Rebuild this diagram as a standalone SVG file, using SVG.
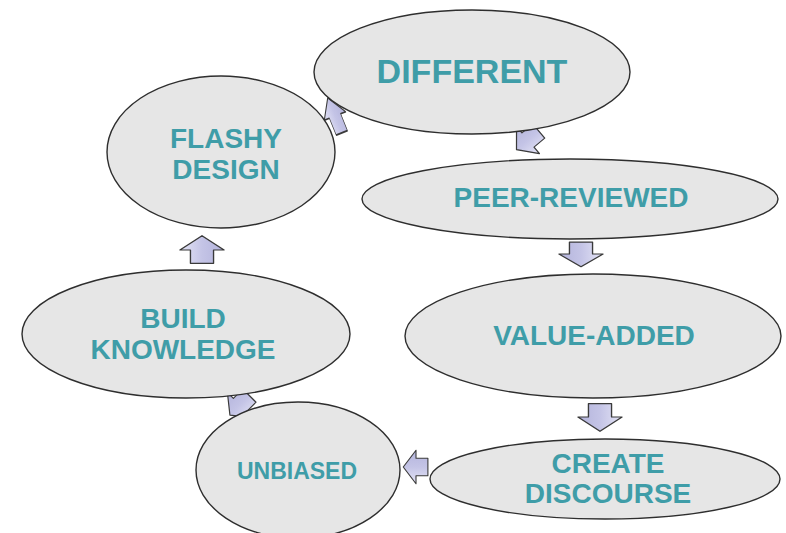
<svg xmlns="http://www.w3.org/2000/svg" width="786" height="533" viewBox="0 0 786 533">
<defs>
<linearGradient id="ag" x1="0" y1="0" x2="0" y2="1">
<stop offset="0" stop-color="#e4e4f6"/>
<stop offset="0.5" stop-color="#c4c4e6"/>
<stop offset="1" stop-color="#b4b4dc"/>
</linearGradient>
<polygon id="arr" points="-14,-11 0,-11 0,-21 15,0 0,21 0,11 -14,11"/>
</defs>
<style>
.n ellipse{fill:#e6e6e6;stroke:#2e2e2e;stroke-width:1.4}
.n text{font-family:"Liberation Sans",Arial,sans-serif;font-weight:bold;fill:#3f9da8;text-anchor:middle}
.c use{fill:url(#ag);stroke:#3a3a3a;stroke-width:1.3;stroke-linejoin:round}
</style>
<rect width="786" height="533" fill="#ffffff"/>
<g id="connectors" class="c">
<use href="#arr" transform="translate(335,116) rotate(-112) scale(1.3,0.55)"/>
<use href="#arr" transform="translate(528,140) rotate(140) scale(1.0,0.85)"/>
<use href="#arr" transform="translate(581,254) rotate(90) scale(0.85,1.05)"/>
<use href="#arr" transform="translate(600,417) rotate(90) scale(0.95,1.05)"/>
<use href="#arr" transform="translate(416,467) rotate(180) scale(0.85,0.8)"/>
<use href="#arr" transform="translate(240,405) rotate(135) scale(0.95,0.85)"/>
<use href="#arr" transform="translate(202,250) rotate(-90) scale(0.95,1.05)"/>
</g>
<g id="n-different" class="n">
<ellipse cx="472" cy="72" rx="158" ry="62"/>
<text x="472" y="83" font-size="34">DIFFERENT</text>
</g>
<g id="n-flashy" class="n">
<ellipse cx="221" cy="152" rx="114" ry="76"/>
<text x="226" y="148" font-size="28">FLASHY</text>
<text x="226" y="179" font-size="28">DESIGN</text>
</g>
<g id="n-peer" class="n">
<ellipse cx="570" cy="199" rx="208" ry="40"/>
<text x="571" y="207" font-size="28">PEER-REVIEWED</text>
</g>
<g id="n-value" class="n">
<ellipse cx="593" cy="336" rx="188" ry="62"/>
<text x="594" y="345" font-size="28">VALUE-ADDED</text>
</g>
<g id="n-create" class="n">
<ellipse cx="605" cy="479" rx="175" ry="40"/>
<text x="608" y="473" font-size="28">CREATE</text>
<text x="608" y="503" font-size="28">DISCOURSE</text>
</g>
<g id="n-unbiased" class="n">
<ellipse cx="298" cy="470" rx="102" ry="68"/>
<text x="297" y="479" font-size="23">UNBIASED</text>
</g>
<g id="n-build" class="n">
<ellipse cx="186" cy="334" rx="164" ry="64"/>
<text x="183" y="328" font-size="28">BUILD</text>
<text x="183" y="359" font-size="28">KNOWLEDGE</text>
</g>
</svg>
